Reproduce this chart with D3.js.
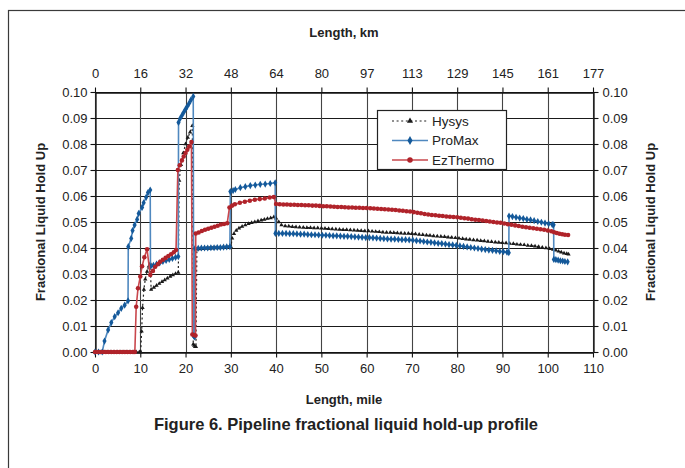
<!DOCTYPE html>
<html><head><meta charset="utf-8">
<script src="https://cdn.jsdelivr.net/npm/d3@7"></script>
<style>
html,body{margin:0;padding:0;background:#fff;}
svg{display:block;font-family:"Liberation Sans",Arial,sans-serif;}
</style></head>
<body><svg id="c" width="685" height="468"></svg>
<script>
// ---- data (x in miles, y = fractional liquid hold up) ----
const hysysMile = [0,0.7,1.4,2.1,2.8,3.5,4.2,4.9,5.6,6.3,7.0,7.7,8.4,9.1,9.8,10.1,10.3,10.5,10.8,11.1,11.5,11.9,12.2,12.4,13.0,13.6,14.2,14.8,15.4,16.0,16.6,17.2,17.8,18.4,18.6,19.0,19.5,20.0,20.5,21.0,21.5,21.7,21.9,22.1,22.3,22.5,23.2,23.9,24.6,25.3,26.0,26.7,27.4,28.1,28.8,29.5,30.0,30.3,30.7,31.2,31.8,32.5,33.2,33.9,34.6,35.3,36.0,36.7,37.4,38.1,38.8,39.5,40.0,40.6,41.2,42.0,42.8,43.6,44.4,45.2,46.0,46.8,47.6,48.4,49.2,50.0,50.8,51.6,52.4,53.2,54.0,54.8,55.6,56.4,57.2,58.0,58.8,59.6,60.4,61.2,62.0,62.8,63.6,64.4,65.2,66.0,66.8,67.6,68.4,69.2,70.0,70.8,71.6,72.4,73.2,74.0,74.8,75.6,76.4,77.2,78.0,78.8,79.6,80.4,81.2,82.0,82.8,83.6,84.4,85.2,86.0,86.8,87.6,88.4,89.2,90.0,90.8,91.6,92.4,93.2,94.0,94.8,95.6,96.4,97.2,98.0,98.8,99.6,100.4,101.2,101.8,102.4,103.0,103.6,104.2,104.6];
const hysysHold = [0,0,0,0,0,0,0,0,0,0,0,0,0,0,0,0,0.008,0.017,0.024,0.028,0.031,0.033,0.034,0.024,0.0248,0.0256,0.0263,0.027,0.0277,0.0284,0.029,0.0296,0.0301,0.0306,0.066,0.072,0.0765,0.080,0.0825,0.0845,0.087,0.003,0.0025,0.002,0.002,0.0395,0.0396,0.0397,0.0398,0.0398,0.0399,0.040,0.040,0.0401,0.0401,0.0402,0.0405,0.0437,0.0455,0.0467,0.0476,0.0483,0.0488,0.0493,0.0497,0.050,0.0504,0.0507,0.051,0.0513,0.0515,0.0519,0.0514,0.050,0.0488,0.0485,0.0484,0.0482,0.0481,0.048,0.0479,0.0478,0.0478,0.0477,0.0477,0.0476,0.0475,0.0474,0.0473,0.0472,0.0471,0.047,0.047,0.0469,0.0468,0.0467,0.0466,0.0465,0.0465,0.0464,0.0463,0.0462,0.0461,0.046,0.046,0.0459,0.0458,0.0457,0.0456,0.0456,0.0455,0.0454,0.0452,0.0451,0.0449,0.0448,0.0446,0.0445,0.0444,0.0443,0.0441,0.044,0.0439,0.0437,0.0436,0.0434,0.0433,0.0431,0.043,0.0428,0.0427,0.0425,0.0424,0.0422,0.0421,0.042,0.0419,0.0417,0.0416,0.0414,0.0413,0.0412,0.041,0.0409,0.0407,0.0405,0.0402,0.040,0.0397,0.0394,0.0391,0.0387,0.0384,0.038,0.0378,0.0376];

const promaxMile = [0,0.8,1.6,2.1,2.9,3.6,4.35,5.1,5.8,6.55,7.3,7.35,8.0,8.3,8.75,9.3,9.65,10.4,10.75,11.3,11.7,12.2,12.25,12.9,13.6,14.3,15.0,15.7,16.4,17.1,17.8,18.4,18.45,18.8,19.2,19.6,20.0,20.4,20.8,21.2,21.7,21.8,22.0,22.1,22.8,23.5,24.2,24.9,25.6,26.3,27.0,27.7,28.4,29.1,29.8,29.9,30.5,31.0,32.1,33.2,34.3,35.4,36.5,37.6,38.7,39.8,39.85,40.6,41.4,42.2,43.0,43.8,44.6,45.4,46.2,47.0,47.8,48.6,49.4,50.2,51.0,51.8,52.6,53.4,54.2,55.0,55.8,56.6,57.4,58.2,59.0,59.8,60.6,61.4,62.2,63.0,63.8,64.6,65.4,66.2,67.0,67.8,68.6,69.4,70.2,71.0,71.8,72.6,73.4,74.2,75.0,75.8,76.6,77.4,78.2,79.0,79.8,80.6,81.4,82.2,83.0,83.8,84.6,85.4,86.2,87.0,87.8,88.6,89.4,90.2,91.0,91.4,91.45,92.2,93.0,93.8,94.6,95.4,96.2,97.0,97.8,98.6,99.4,100.2,101.0,101.3,101.35,101.8,102.3,102.8,103.3,103.8,104.4];
const promaxHold = [0,0,0,0.0042,0.0085,0.0113,0.0136,0.0151,0.0168,0.018,0.0197,0.0405,0.0437,0.0467,0.0488,0.051,0.0533,0.0556,0.0574,0.0595,0.0613,0.0623,0.0328,0.0333,0.0338,0.0343,0.0348,0.0352,0.0356,0.036,0.0364,0.0367,0.0883,0.0898,0.091,0.0922,0.0934,0.0945,0.0957,0.097,0.0983,0.0062,0.0058,0.0398,0.0399,0.04,0.04,0.04,0.0401,0.0401,0.0402,0.0402,0.0403,0.0404,0.0405,0.0617,0.0621,0.0625,0.0632,0.0636,0.064,0.0642,0.0645,0.0646,0.0648,0.0651,0.0456,0.0456,0.0456,0.0456,0.0455,0.0455,0.0454,0.0453,0.0453,0.0452,0.0451,0.0451,0.045,0.0449,0.0449,0.0448,0.0447,0.0447,0.0446,0.0445,0.0445,0.0444,0.0443,0.0442,0.0441,0.044,0.044,0.0439,0.0438,0.0437,0.0436,0.0435,0.0434,0.0434,0.0433,0.0432,0.0432,0.0431,0.043,0.0428,0.0427,0.0425,0.0423,0.0422,0.042,0.0418,0.0417,0.0415,0.0413,0.0412,0.041,0.0408,0.0406,0.0404,0.0402,0.04,0.0398,0.0396,0.0394,0.0392,0.0391,0.0389,0.0387,0.0386,0.0384,0.0382,0.0523,0.0521,0.0518,0.0515,0.0513,0.051,0.0508,0.0505,0.0502,0.0499,0.0496,0.0493,0.049,0.0489,0.0356,0.0355,0.0353,0.0351,0.035,0.0348,0.0347];

const ezMile = [0,0.6,1.2,1.8,2.4,3.0,3.6,4.2,4.8,5.4,6.0,6.6,7.2,7.8,8.4,8.8,9.1,9.5,10.0,10.4,10.9,11.5,12.2,12.8,13.3,13.9,14.4,15.0,15.6,16.2,16.8,17.4,17.9,18.3,18.7,19.2,19.6,20.0,20.4,20.8,21.3,21.5,21.9,22.2,22.25,22.9,23.6,24.3,25.0,25.7,26.4,27.1,27.8,28.5,29.2,29.7,30.3,30.9,32.0,33.1,34.2,35.3,36.4,37.5,38.6,39.5,40.0,40.8,41.6,42.4,43.2,44.0,44.8,45.6,46.4,47.2,48.0,48.8,49.6,50.4,51.2,52.0,52.8,53.6,54.4,55.2,56.0,56.8,57.6,58.4,59.2,60.0,60.8,61.6,62.4,63.2,64.0,64.8,65.6,66.4,67.2,68.0,68.8,69.6,70.4,71.2,72.0,72.8,73.6,74.4,75.2,76.0,76.8,77.6,78.4,79.2,80.0,80.8,81.6,82.4,83.2,84.0,84.8,85.6,86.4,87.2,88.0,88.8,89.6,90.4,91.2,92.0,92.8,93.6,94.4,95.2,96.0,96.8,97.6,98.4,99.2,100.0,100.8,101.4,102.0,102.6,103.2,103.8,104.5];
const ezHold = [0,0,0,0,0,0,0,0,0,0,0,0,0,0,0,0,0.0174,0.0245,0.029,0.033,0.0364,0.0395,0.0296,0.0312,0.0328,0.0338,0.0347,0.0355,0.0362,0.0369,0.0376,0.0384,0.0392,0.070,0.0718,0.0737,0.0752,0.0765,0.0778,0.079,0.0808,0.0067,0.0065,0.0063,0.0456,0.046,0.0465,0.047,0.0474,0.0478,0.0482,0.0486,0.049,0.0492,0.0495,0.0556,0.0563,0.0568,0.0574,0.0578,0.0582,0.0586,0.0588,0.059,0.0594,0.0596,0.0569,0.0568,0.0567,0.0567,0.0566,0.0566,0.0565,0.0565,0.0564,0.0564,0.0563,0.0563,0.0562,0.0561,0.0561,0.056,0.0559,0.0558,0.0558,0.0557,0.0556,0.0556,0.0555,0.0555,0.0554,0.0554,0.0553,0.0552,0.0551,0.055,0.0549,0.0548,0.0547,0.0546,0.0544,0.0543,0.0541,0.054,0.0538,0.0536,0.0534,0.0531,0.0529,0.0527,0.0526,0.0524,0.0523,0.0521,0.052,0.0519,0.0518,0.0516,0.0514,0.0513,0.0511,0.0509,0.0508,0.0506,0.0504,0.0502,0.05,0.0498,0.0497,0.0494,0.0491,0.0489,0.0487,0.0485,0.0482,0.048,0.0478,0.0476,0.0474,0.0472,0.047,0.0467,0.0464,0.0461,0.0458,0.0455,0.0453,0.0451,0.045];

const seriesNames = ["Hysys","ProMax","EzThermo"];
const mileTicks = [0,10,20,30,40,50,60,70,80,90,100,110];
const kmTickLabels = ["0","16","32","48","64","80","97","113","129","145","161","177"];
const holdTicks = [0,0.01,0.02,0.03,0.04,0.05,0.06,0.07,0.08,0.09,0.10];

// ---- drawing ----
const svg = d3.select("#c");
const L = 95, R = 593, T = 92, B = 352;
const x = d3.scaleLinear().domain([0,110]).range([L,R]);
const y = d3.scaleLinear().domain([0,0.1]).range([B,T]);

svg.append("rect").attr("x",8.5).attr("y",10.5).attr("width",720).attr("height",520)
  .attr("fill","none").attr("stroke","#3a3a3a").attr("stroke-width",1.2);

// grid
const grid = svg.append("g");
grid.selectAll("line.h").data(holdTicks).join("line")
  .attr("x1",L).attr("x2",R).attr("y1",d=>Math.round(y(d))+0.5).attr("y2",d=>Math.round(y(d))+0.5)
  .attr("stroke","#1a1a1a").attr("stroke-width",1);
grid.selectAll("line.v").data(mileTicks).join("line")
  .attr("y1",T).attr("y2",B).attr("x1",d=>Math.round(x(d))+0.5).attr("x2",d=>Math.round(x(d))+0.5)
  .attr("stroke","#444").attr("stroke-width",1.1);

const fmt = d3.format(".2f");
function styleAxis(g){
  g.selectAll(".domain").attr("stroke","#111").attr("stroke-width",1.3);
  g.selectAll(".tick line").attr("stroke","#111").attr("stroke-width",1.1);
  g.selectAll(".tick text").attr("font-size","13px").attr("fill","#222").attr("font-family","Liberation Sans, Arial, sans-serif");
}
svg.append("g").attr("transform",`translate(0,${B+0.5})`)
  .call(d3.axisBottom(x).tickValues(mileTicks).tickSize(5).tickPadding(6).tickSizeOuter(0)).call(styleAxis);
svg.append("g").attr("transform",`translate(0,${T+0.5})`)
  .call(d3.axisTop(x).tickValues(mileTicks).tickFormat((d,i)=>kmTickLabels[i]).tickSize(5).tickPadding(10).tickSizeOuter(0)).call(styleAxis);
svg.append("g").attr("transform",`translate(${L+0.5},0)`)
  .call(d3.axisLeft(y).tickValues(holdTicks).tickFormat(fmt).tickSize(5).tickPadding(3).tickSizeOuter(0)).call(styleAxis);
svg.append("g").attr("transform",`translate(${R+0.5},0)`)
  .call(d3.axisRight(y).tickValues(holdTicks).tickFormat(fmt).tickSize(5).tickPadding(4).tickSizeOuter(0)).call(styleAxis);

// titles
const cx = (L+R)/2;
svg.append("text").attr("x",cx).attr("y",37).attr("text-anchor","middle").attr("font-weight","bold").attr("font-size","13px").attr("fill","#222").text("Length, km");
svg.append("text").attr("x",cx).attr("y",404).attr("text-anchor","middle").attr("font-weight","bold").attr("font-size","13px").attr("fill","#222").text("Length, mile");
svg.append("text").attr("x",cx+2).attr("y",430).attr("text-anchor","middle").attr("font-weight","bold").attr("font-size","16.5px").attr("fill","#222").text("Figure 6. Pipeline fractional liquid hold-up profile");
svg.append("text").attr("transform",`translate(45,${(T+B)/2}) rotate(-90)`).attr("text-anchor","middle").attr("font-weight","bold").attr("font-size","13px").attr("fill","#222").text("Fractional Liquid Hold Up");
svg.append("text").attr("transform",`translate(655,${(T+B)/2}) rotate(-90)`).attr("text-anchor","middle").attr("font-weight","bold").attr("font-size","13px").attr("fill","#222").text("Fractional Liquid Hold Up");

// series
const series = [
  {name:seriesNames[0], xs:hysysMile, ys:hysysHold, line:"#222", dash:"2,2.6", lw:1.2, mk:"#1a1a1a", sym:d3.symbolTriangle, size:8},
  {name:seriesNames[1], xs:promaxMile, ys:promaxHold, line:"#4f88bf", dash:null, lw:1.6, mk:"#14599a", sym:d3.symbolDiamond, size:15},
  {name:seriesNames[2], xs:ezMile, ys:ezHold, line:"#c9474d", dash:null, lw:1.6, mk:"#b0232a", sym:d3.symbolCircle, size:16}
];
const lineGen = d3.line().x(d=>x(d[0])).y(d=>y(d[1]));
series.forEach(s=>{
  const pts = s.xs.map((v,i)=>[v,s.ys[i]]);
  const g = svg.append("g");
  g.append("path").datum(pts).attr("d",lineGen).attr("fill","none")
    .attr("stroke",s.line).attr("stroke-width",s.lw).attr("stroke-dasharray",s.dash);
  g.selectAll("path.m").data(pts).join("path").attr("class","m")
    .attr("transform",d=>`translate(${x(d[0])},${y(d[1])})`)
    .attr("d",d3.symbol().type(s.sym).size(s.size)).attr("fill",s.mk);
});

// legend
const lg = svg.append("g");
lg.append("rect").attr("x",377.5).attr("y",110.5).attr("width",129).attr("height",59).attr("fill","#fff").attr("stroke","#222").attr("stroke-width",1.2);
series.forEach((s,i)=>{
  const yy = 121 + i*19.5;
  lg.append("line").attr("x1",392).attr("x2",428).attr("y1",yy).attr("y2",yy)
    .attr("stroke",s.line).attr("stroke-width",s.lw).attr("stroke-dasharray",s.dash);
  lg.append("path").attr("transform",`translate(410,${yy})`).attr("d",d3.symbol().type(s.sym).size(s.size+8)).attr("fill",s.mk);
  lg.append("text").attr("x",432).attr("y",yy+4.5).attr("font-size","13.5px").attr("fill","#222").text(s.name);
});
</script></body></html>
